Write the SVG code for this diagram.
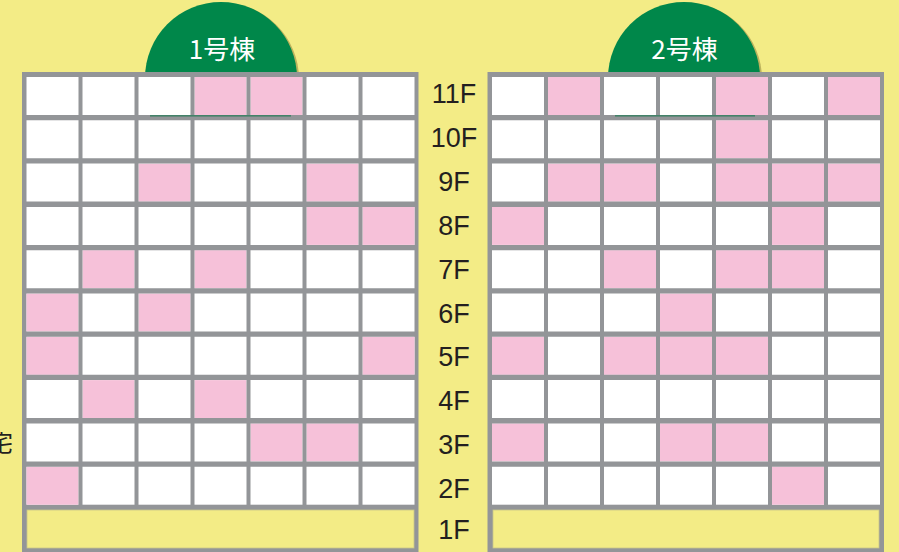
<svg xmlns="http://www.w3.org/2000/svg" width="899" height="552" viewBox="0 0 899 552">
<style>
.bg{fill:#F3EC86}
.frame{fill:#939598}
.w{fill:#FFFFFF}
.p{fill:#F6C1D9}
.f1{fill:#F3EC86;stroke:#C9C58A;stroke-width:0.8}
.grid{fill:none;stroke:#939598}
.dome{fill:#00874A}
.shadow{fill:#7A6E2C;opacity:0.45}
.under{fill:#2F7D5E;opacity:0.8}
.bt{font-family:"Noto Sans CJK JP","Noto Sans CJK SC",sans-serif;font-size:26px;font-weight:400;fill:#FFFFFF;text-anchor:middle}
.fl{font-family:"Liberation Sans",Arial,sans-serif;font-size:27px;fill:#231F20;text-anchor:middle}
.side{font-family:"Noto Sans CJK JP","Noto Sans CJK SC",sans-serif;font-size:23px;fill:#231F20}
</style>
<rect class="bg" x="0" y="0" width="899" height="552"/>
<text class="side" x="-10" y="451">宅</text>

<g id="building1">
  <path class="shadow" d="M147,79 A76,76 0 0 1 299,79 L299,118 L147,118 Z"/>
  <path class="dome" d="M145,78 A76,76 0 0 1 297,78 L297,118 L145,118 Z"/>
  <text class="bt" x="222" y="59">1号棟</text>
  <rect class="frame" x="22" y="72" width="396.5" height="480"/>
  <rect class="w" x="26.5" y="77" width="388" height="427.7"/>
  <g id="b1-occupied">
    <rect class="p" x="194.5" y="77" width="52" height="38"/>
    <rect class="p" x="250.5" y="77" width="52" height="38"/>
    <rect class="p" x="138.5" y="163.6" width="52" height="38"/>
    <rect class="p" x="306.5" y="163.6" width="52" height="38"/>
    <rect class="p" x="306.5" y="206.9" width="52" height="38"/>
    <rect class="p" x="362.5" y="206.9" width="52" height="38"/>
    <rect class="p" x="82.5" y="250.2" width="52" height="38"/>
    <rect class="p" x="194.5" y="250.2" width="52" height="38"/>
    <rect class="p" x="26.5" y="293.5" width="52" height="38"/>
    <rect class="p" x="138.5" y="293.5" width="52" height="38"/>
    <rect class="p" x="26.5" y="336.8" width="52" height="38"/>
    <rect class="p" x="362.5" y="336.8" width="52" height="38"/>
    <rect class="p" x="82.5" y="380.1" width="52" height="38"/>
    <rect class="p" x="194.5" y="380.1" width="52" height="38"/>
    <rect class="p" x="250.5" y="423.4" width="52" height="38"/>
    <rect class="p" x="306.5" y="423.4" width="52" height="38"/>
    <rect class="p" x="26.5" y="466.7" width="52" height="38"/>
  </g>
  <path class="grid" stroke-width="4" d="M80.5,77V505M136.5,77V505M192.5,77V505M248.5,77V505M304.5,77V505M360.5,77V505"/>
  <path class="grid" stroke-width="5.3" d="M26,117.65H415M26,160.95H415M26,204.25H415M26,247.55H415M26,290.85H415M26,334.15H415M26,377.45H415M26,420.75H415M26,464.05H415"/>
  <rect class="under" x="150" y="115" width="141" height="1.6"/>
  <rect class="f1" x="27" y="510" width="387" height="38"/>
</g>

<g id="building2">
  <path class="shadow" d="M610,79 A76,76 0 0 1 762,79 L762,118 L610,118 Z"/>
  <path class="dome" d="M608,78 A76,76 0 0 1 760,78 L760,118 L608,118 Z"/>
  <text class="bt" x="684.5" y="59">2号棟</text>
  <rect class="frame" x="487.5" y="72" width="396.5" height="480"/>
  <rect class="w" x="492" y="77" width="388" height="427.7"/>
  <g id="b2-occupied">
    <rect class="p" x="548" y="77" width="52" height="38"/>
    <rect class="p" x="716" y="77" width="52" height="38"/>
    <rect class="p" x="828" y="77" width="52" height="38"/>
    <rect class="p" x="716" y="120.3" width="52" height="38"/>
    <rect class="p" x="548" y="163.6" width="52" height="38"/>
    <rect class="p" x="604" y="163.6" width="52" height="38"/>
    <rect class="p" x="716" y="163.6" width="52" height="38"/>
    <rect class="p" x="772" y="163.6" width="52" height="38"/>
    <rect class="p" x="828" y="163.6" width="52" height="38"/>
    <rect class="p" x="492" y="206.9" width="52" height="38"/>
    <rect class="p" x="772" y="206.9" width="52" height="38"/>
    <rect class="p" x="604" y="250.2" width="52" height="38"/>
    <rect class="p" x="716" y="250.2" width="52" height="38"/>
    <rect class="p" x="772" y="250.2" width="52" height="38"/>
    <rect class="p" x="660" y="293.5" width="52" height="38"/>
    <rect class="p" x="492" y="336.8" width="52" height="38"/>
    <rect class="p" x="604" y="336.8" width="52" height="38"/>
    <rect class="p" x="660" y="336.8" width="52" height="38"/>
    <rect class="p" x="716" y="336.8" width="52" height="38"/>
    <rect class="p" x="492" y="423.4" width="52" height="38"/>
    <rect class="p" x="660" y="423.4" width="52" height="38"/>
    <rect class="p" x="716" y="423.4" width="52" height="38"/>
    <rect class="p" x="772" y="466.7" width="52" height="38"/>
  </g>
  <path class="grid" stroke-width="4" d="M546,77V505M602,77V505M658,77V505M714,77V505M770,77V505M826,77V505"/>
  <path class="grid" stroke-width="5.3" d="M491.5,117.65H880.5M491.5,160.95H880.5M491.5,204.25H880.5M491.5,247.55H880.5M491.5,290.85H880.5M491.5,334.15H880.5M491.5,377.45H880.5M491.5,420.75H880.5M491.5,464.05H880.5"/>
  <rect class="under" x="615" y="115" width="140" height="1.6"/>
  <rect class="f1" x="493" y="510" width="386" height="38"/>
</g>

<g id="floor-labels">
  <text class="fl" x="454" y="103">11F</text>
  <text class="fl" x="454" y="146.9">10F</text>
  <text class="fl" x="454" y="190.8">9F</text>
  <text class="fl" x="454" y="234.7">8F</text>
  <text class="fl" x="454" y="278.6">7F</text>
  <text class="fl" x="454" y="322.5">6F</text>
  <text class="fl" x="454" y="366.4">5F</text>
  <text class="fl" x="454" y="410.3">4F</text>
  <text class="fl" x="454" y="454.2">3F</text>
  <text class="fl" x="454" y="498">2F</text>
  <text class="fl" x="454" y="539">1F</text>
</g>
<g id="connectors"/>
</svg>
